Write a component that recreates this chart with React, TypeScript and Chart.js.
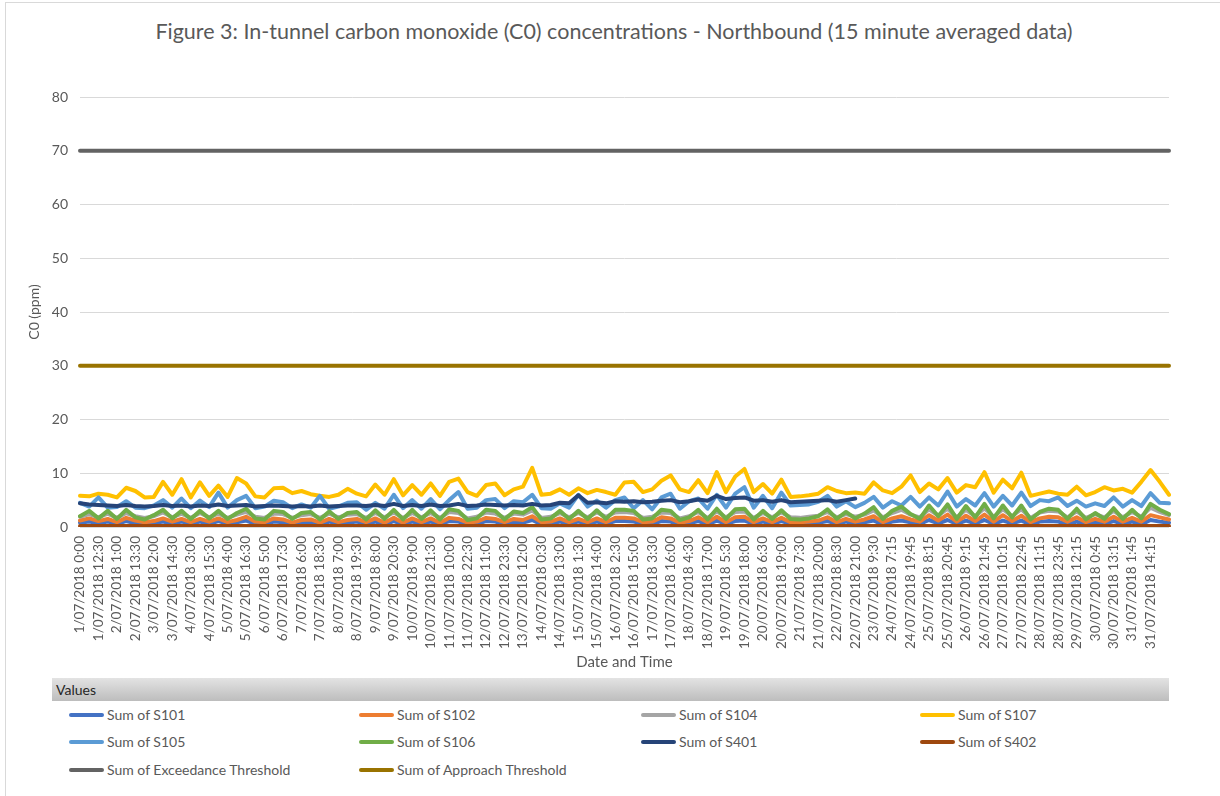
import React, { useEffect, useRef } from 'react';
import { Chart, registerables } from 'chart.js';

Chart.register(...registerables);

const FONT = 'Lato, "Noto Sans", sans-serif';
const TEXT = '#595959';

const TITLE = 'Figure 3: In-tunnel carbon monoxide (C0) concentrations - Northbound (15 minute averaged data)';
const X_TITLE = 'Date and Time';
const Y_TITLE = 'C0 (ppm)';

const TICK_LABELS = [
  '1/07/2018 0:00', '1/07/2018 12:30', '2/07/2018 1:00', '2/07/2018 13:30', '3/07/2018 2:00', '3/07/2018 14:30',
  '4/07/2018 3:00', '4/07/2018 15:30', '5/07/2018 4:00', '5/07/2018 16:30', '6/07/2018 5:00', '6/07/2018 17:30',
  '7/07/2018 6:00', '7/07/2018 18:30', '8/07/2018 7:00', '8/07/2018 19:30', '9/07/2018 8:00', '9/07/2018 20:30',
  '10/07/2018 9:00', '10/07/2018 21:30', '11/07/2018 10:00', '11/07/2018 22:30', '12/07/2018 11:00', '12/07/2018 23:30',
  '13/07/2018 12:00', '14/07/2018 0:30', '14/07/2018 13:00', '15/07/2018 1:30', '15/07/2018 14:00', '16/07/2018 2:30',
  '16/07/2018 15:00', '17/07/2018 3:30', '17/07/2018 16:00', '18/07/2018 4:30', '18/07/2018 17:00', '19/07/2018 5:30',
  '19/07/2018 18:00', '20/07/2018 6:30', '20/07/2018 19:00', '21/07/2018 7:30', '21/07/2018 20:00', '22/07/2018 8:30',
  '22/07/2018 21:00', '23/07/2018 9:30', '24/07/2018 7:15', '24/07/2018 19:45', '25/07/2018 8:15', '25/07/2018 20:45',
  '26/07/2018 9:15', '26/07/2018 21:45', '27/07/2018 10:15', '27/07/2018 22:45', '28/07/2018 11:15', '28/07/2018 23:45',
  '29/07/2018 12:15', '30/07/2018 0:45', '30/07/2018 13:15', '31/07/2018 1:45', '31/07/2018 14:15',
];

// sampled values (two samples per labelled interval)
const S101 = [
  0.8, 1.0, 0.7, 1.0, 0.6, 1.1, 0.7, 0.5, 0.7, 1.0, 0.6, 1.0, 0.6, 1.0, 0.6, 1.1, 0.6, 0.9, 1.2, 0.6,
  0.5, 1.0, 0.9, 0.5, 0.8, 0.9, 0.3, 1.0, 0.6, 0.8, 1.0, 0.5, 1.0, 0.5, 1.1, 0.5, 1.0, 0.6, 1.0, 0.5,
  1.1, 1.0, 0.5, 0.6, 1.1, 1.0, 0.5, 0.9, 0.8, 1.3, 0.5, 0.6, 1.0, 0.6, 1.0, 0.6, 1.0, 0.6, 1.1, 1.1,
  1.0, 0.6, 0.6, 1.1, 1.0, 0.4, 0.7, 1.1, 0.5, 1.2, 0.6, 1.1, 1.2, 0.6, 1.0, 0.6, 1.1, 0.6, 0.5, 0.6,
  0.8, 1.1, 0.6, 1.0, 0.6, 0.9, 1.2, 0.5, 1.0, 1.2, 0.9, 0.6, 1.3, 0.7, 1.3, 0.6, 1.2, 0.7, 1.3, 0.6,
  1.2, 0.7, 1.2, 0.5, 1.0, 1.1, 1.0, 0.5, 1.0, 0.4, 0.9, 0.6, 1.1, 0.6, 1.0, 0.5, 1.3, 1.0, 0.8,
];
const S102 = [
  1.2, 1.6, 1.1, 1.5, 0.9, 1.7, 1.2, 0.9, 1.1, 1.6, 1.0, 1.5, 0.9, 1.5, 1.0, 1.6, 0.9, 1.3, 1.9, 1.0,
  0.9, 1.6, 1.4, 0.8, 1.3, 1.4, 0.8, 1.5, 0.9, 1.3, 1.5, 0.9, 1.6, 0.8, 1.7, 0.8, 1.6, 0.9, 1.6, 0.8,
  1.7, 1.5, 0.8, 1.0, 1.7, 1.5, 0.9, 1.5, 1.3, 2.0, 0.9, 1.0, 1.6, 0.9, 1.5, 0.9, 1.6, 0.9, 1.7, 1.7,
  1.6, 0.9, 1.0, 1.8, 1.6, 0.8, 1.1, 1.8, 0.9, 1.9, 0.9, 1.8, 1.9, 0.9, 1.6, 0.9, 1.7, 0.9, 0.9, 1.0,
  1.2, 1.8, 0.9, 1.5, 1.0, 1.4, 2.0, 0.9, 1.6, 2.0, 1.4, 1.0, 2.2, 1.2, 2.3, 1.0, 2.1, 1.1, 2.3, 1.0,
  2.2, 1.1, 2.1, 0.9, 1.6, 1.9, 1.8, 1.0, 1.8, 0.9, 1.5, 1.0, 1.9, 1.0, 1.7, 1.0, 2.2, 1.8, 1.4,
];
const S104 = [
  1.9, 2.4, 1.8, 2.5, 1.7, 2.6, 2.0, 1.7, 2.0, 2.7, 1.8, 2.5, 1.7, 2.6, 1.8, 2.5, 1.7, 2.3, 2.8, 1.9,
  1.7, 2.5, 2.4, 1.7, 2.2, 2.4, 1.7, 2.5, 1.8, 2.3, 2.4, 1.7, 2.6, 1.8, 2.7, 1.7, 2.6, 1.8, 2.6, 1.7,
  2.8, 2.6, 1.6, 1.9, 2.7, 2.5, 1.7, 2.5, 2.3, 3.1, 1.7, 1.9, 2.6, 1.8, 2.6, 1.8, 2.7, 1.9, 2.7, 2.8,
  2.6, 1.7, 1.9, 2.7, 2.6, 1.6, 2.0, 2.8, 1.7, 2.9, 1.8, 2.8, 2.9, 1.7, 2.6, 1.8, 2.7, 1.8, 1.7, 1.9,
  2.1, 2.8, 1.8, 2.4, 1.9, 2.3, 3.1, 1.8, 2.6, 3.2, 2.3, 1.8, 3.3, 2.1, 3.4, 1.8, 3.2, 2.0, 3.5, 1.9,
  3.3, 2.0, 3.3, 1.7, 2.7, 3.0, 2.9, 1.8, 2.9, 1.7, 2.4, 1.8, 3.0, 1.8, 2.8, 1.9, 3.6, 2.8, 2.2,
];
const S107 = [
  5.8, 5.7, 6.2, 6.0, 5.5, 7.3, 6.7, 5.5, 5.6, 8.4, 6.0, 8.9, 5.5, 8.3, 5.8, 7.7, 5.6, 9.1, 8.1, 5.7,
  5.5, 7.2, 7.3, 6.3, 6.7, 6.1, 5.8, 5.6, 6.0, 7.1, 6.2, 5.7, 7.9, 6.0, 8.9, 5.9, 7.8, 6.0, 8.1, 5.8,
  8.4, 9.0, 6.5, 5.8, 7.8, 8.1, 5.9, 7.0, 7.5, 11.0, 6.0, 6.2, 7.0, 6.0, 7.2, 6.3, 6.9, 6.5, 6.0, 8.3,
  8.4, 6.5, 7.0, 8.6, 9.6, 7.0, 6.5, 8.7, 6.3, 10.2, 6.5, 9.4, 10.8, 6.5, 8.0, 6.2, 8.8, 5.6, 5.7, 5.9,
  6.2, 7.4, 6.7, 6.3, 6.4, 6.2, 8.3, 6.8, 6.3, 7.5, 9.6, 6.5, 8.1, 7.0, 9.1, 6.4, 7.8, 7.4, 10.2, 6.4,
  8.8, 7.2, 10.1, 5.8, 6.2, 6.6, 6.2, 6.0, 7.5, 5.9, 6.5, 7.4, 6.8, 7.1, 6.4, 8.4, 10.6, 8.4, 6.0,
];
const S105 = [
  4.5, 3.8, 5.5, 3.6, 3.7, 4.8, 3.6, 3.5, 4.0, 5.0, 3.6, 5.3, 3.5, 4.9, 3.7, 6.4, 3.6, 5.0, 5.8, 3.5,
  3.8, 4.9, 4.6, 3.5, 4.2, 3.6, 5.8, 3.4, 3.8, 4.5, 4.6, 3.2, 4.5, 3.4, 6.0, 3.5, 5.0, 3.4, 5.2, 3.3,
  5.0, 6.5, 3.4, 3.6, 5.0, 5.2, 3.5, 4.8, 4.6, 6.0, 3.5, 3.4, 4.4, 3.6, 6.0, 3.8, 4.9, 3.6, 5.0, 5.5,
  3.5, 5.0, 3.3, 5.5, 6.2, 3.4, 4.8, 5.3, 3.4, 6.0, 3.6, 6.2, 7.4, 3.6, 5.8, 3.5, 6.4, 4.0, 4.1, 4.2,
  4.7, 5.8, 3.8, 4.8, 3.7, 4.5, 5.6, 3.6, 4.8, 4.0, 5.6, 3.8, 5.5, 4.0, 6.6, 3.8, 5.2, 4.0, 6.3, 3.8,
  5.8, 4.0, 6.4, 3.9, 5.0, 4.8, 5.5, 3.9, 4.9, 3.8, 4.4, 3.9, 5.5, 3.8, 5.0, 3.9, 6.3, 4.5, 4.4,
];
const S106 = [
  2.0, 3.0, 1.6, 3.0, 1.5, 3.2, 1.8, 1.4, 2.2, 3.2, 1.6, 3.0, 1.5, 3.0, 1.6, 3.0, 1.5, 2.6, 3.4, 1.6,
  1.4, 3.0, 2.8, 1.5, 2.6, 2.8, 1.4, 2.9, 1.5, 2.6, 2.8, 1.4, 3.1, 1.5, 3.2, 1.4, 3.2, 1.5, 3.1, 1.4,
  3.3, 3.0, 1.3, 1.6, 3.2, 3.0, 1.4, 2.9, 2.6, 3.7, 1.4, 1.6, 3.0, 1.5, 3.0, 1.5, 3.1, 1.5, 3.2, 3.2,
  3.0, 1.4, 1.6, 3.2, 3.0, 1.3, 1.8, 3.2, 1.4, 3.4, 1.5, 3.3, 3.4, 1.4, 3.0, 1.5, 3.1, 1.5, 1.4, 1.6,
  2.0, 3.3, 1.5, 2.8, 1.6, 2.5, 3.7, 1.5, 3.0, 3.8, 2.4, 1.5, 4.0, 2.0, 4.2, 1.5, 3.9, 1.8, 4.3, 1.6,
  4.0, 1.8, 4.0, 1.4, 2.8, 3.4, 3.2, 1.5, 3.4, 1.4, 2.6, 1.5, 3.5, 1.5, 3.2, 1.6, 4.3, 3.2, 2.4,
];
const S401 = [
  4.4, 4.2, 4.1, 4.0, 3.9, 4.1, 3.9, 3.8, 3.9, 4.1, 3.9, 4.0, 3.8, 4.0, 3.9, 4.2, 3.9, 4.0, 4.1, 3.8,
  3.9, 4.0, 3.9, 3.8, 3.9, 3.8, 4.0, 3.8, 3.9, 4.0, 4.0, 3.9, 4.1, 3.9, 4.3, 3.9, 4.1, 3.9, 4.2, 3.9,
  4.0, 4.3, 3.9, 4.0, 4.2, 4.1, 4.0, 4.1, 4.0, 4.3, 4.0, 4.1, 4.5, 4.4, 5.9, 4.5, 4.6, 4.4, 4.8, 4.7,
  4.8, 4.6, 4.7, 4.9, 5.0, 4.6, 4.8, 5.1, 4.9, 5.8, 5.2, 5.4, 5.5, 4.9, 5.0, 4.7, 5.0, 4.6, 4.7, 4.8,
  4.9, 5.0, 4.7, 5.0, 5.3, null, null, null, null, null, null, null, null, null, null, null, null, null, null, null,
  null, null, null, null, null, null, null, null, null, null, null, null, null, null, null, null, null, null, null,
];
const S402 = [
  0.2, 0.2, 0.2, 0.2, 0.2, 0.2, 0.2, 0.2, 0.2, 0.2, 0.2, 0.2, 0.2, 0.2, 0.2, 0.2, 0.2, 0.2, 0.2, 0.2,
  0.2, 0.2, 0.2, 0.2, 0.2, 0.2, 0.2, 0.2, 0.2, 0.2, 0.2, 0.2, 0.2, 0.2, 0.2, 0.2, 0.2, 0.2, 0.2, 0.2,
  0.2, 0.2, 0.2, 0.2, 0.2, 0.2, 0.2, 0.2, 0.2, 0.2, 0.2, 0.2, 0.2, 0.2, 0.2, 0.2, 0.2, 0.2, 0.2, 0.2,
  0.2, 0.2, 0.2, 0.2, 0.2, 0.2, 0.2, 0.2, 0.2, 0.2, 0.2, 0.2, 0.2, 0.2, 0.2, 0.2, 0.2, 0.2, 0.2, 0.2,
  0.2, 0.2, 0.2, 0.2, 0.2, 0.2, 0.2, 0.2, 0.2, 0.2, 0.2, 0.2, 0.2, 0.2, 0.2, 0.2, 0.2, 0.2, 0.2, 0.2,
  0.2, 0.2, 0.2, 0.2, 0.2, 0.2, 0.2, 0.2, 0.2, 0.2, 0.2, 0.2, 0.2, 0.2, 0.2, 0.2, 0.2, 0.2, 0.2,
];
const EXCEEDANCE_THRESHOLD = 70;
const APPROACH_THRESHOLD = 30;

// category labels for the points: a tick label on every second sample
const POINT_LABELS = S101.map((_, i) => (i % 2 === 0 && TICK_LABELS[i / 2]) ? TICK_LABELS[i / 2] : '');

const SERIES = [
  { label: 'Sum of S101', data: S101, color: '#4472C4' },
  { label: 'Sum of S102', data: S102, color: '#ED7D31' },
  { label: 'Sum of S104', data: S104, color: '#A5A5A5' },
  { label: 'Sum of S107', data: S107, color: '#FFC000' },
  { label: 'Sum of S105', data: S105, color: '#5B9BD5' },
  { label: 'Sum of S106', data: S106, color: '#70AD47' },
  { label: 'Sum of S401', data: S401, color: '#264478' },
  { label: 'Sum of S402', data: S402, color: '#9E480E' },
  { label: 'Sum of Exceedance Threshold', data: POINT_LABELS.map(() => EXCEEDANCE_THRESHOLD), color: '#636363' },
  { label: 'Sum of Approach Threshold', data: POINT_LABELS.map(() => APPROACH_THRESHOLD), color: '#997300' },
];

const LEGEND_COLS = [107, 397, 679, 958];
const LEGEND_ROWS = [715, 742, 770];

export default function App() {
  const ref = useRef<HTMLCanvasElement | null>(null);

  useEffect(() => {
    if (!ref.current) return;
    const chart = new Chart(ref.current, {
      type: 'line',
      data: {
        labels: POINT_LABELS,
        datasets: SERIES.map((s, i) => ({
          label: s.label,
          data: s.data as any,
          borderColor: s.color,
          backgroundColor: s.color,
          borderWidth: 4,
          pointRadius: 0,
          tension: 0,
          fill: false,
          spanGaps: false,
          order: -i,
          borderJoinStyle: 'round' as const,
          borderCapStyle: 'round' as const,
        })),
      },
      options: {
        animation: false,
        responsive: false,
        maintainAspectRatio: false,
        layout: { padding: { left: 0, right: 51, top: 97, bottom: 0 } },
        plugins: {
          legend: { display: false },
          tooltip: { enabled: false },
          title: { display: false },
        },
        scales: {
          x: {
            grid: { display: false, drawTicks: false },
            border: { display: false },
            ticks: {
              autoSkip: false,
              minRotation: 90,
              maxRotation: 90,
              padding: 9,
              color: TEXT,
              font: { family: FONT, size: 13.5 },
            },
            title: {
              display: true,
              text: X_TITLE,
              color: TEXT,
              font: { family: FONT, size: 15 },
              padding: { top: 0, bottom: 9 },
            },
            afterFit: (s: any) => { s.height = 153; },
          },
          y: {
            min: 0,
            max: 80,
            ticks: { stepSize: 10, padding: 12, color: TEXT, font: { family: FONT, size: 14 } },
            grid: { color: '#d9d9d9', lineWidth: 1, drawTicks: false },
            border: { display: false },
            title: {
              display: true,
              text: Y_TITLE,
              color: TEXT,
              font: { family: FONT, size: 14 },
              padding: { top: 26, bottom: 0 },
            },
            afterFit: (s: any) => { s.width = 80; },
          },
        },
      } as any,
    });
    return () => chart.destroy();
  }, []);

  return (
    <div style={{ position: 'fixed', left: 0, top: 0, width: 1220, height: 796, background: '#fff', overflow: 'hidden', fontFamily: FONT }}>
      <div style={{ position: 'absolute', left: 5, top: 2, width: 1220, height: 800, borderLeft: '1px solid #d9d9d9', borderTop: '1px solid #d9d9d9' }} />
      <div style={{ position: 'absolute', left: 0, top: 18, width: 1228, textAlign: 'center', fontSize: 21.5, lineHeight: '26px', color: TEXT, whiteSpace: 'nowrap' }}>
        {TITLE}
      </div>
      <canvas ref={ref} width={1220} height={680} style={{ position: 'absolute', left: 0, top: 0, width: 1220, height: 680 }} />
      <div style={{
        position: 'absolute', left: 52, top: 678, width: 1117, height: 23,
        background: 'linear-gradient(#e3e3e3, #bdbdbd)', color: '#262626', fontSize: 14, lineHeight: '23px', paddingLeft: 4, boxSizing: 'border-box',
      }}>Values</div>
      {SERIES.map((s, i) => {
        const x = LEGEND_COLS[i % 4];
        const y = LEGEND_ROWS[Math.floor(i / 4)];
        return (
          <React.Fragment key={s.label}>
            <div style={{ position: 'absolute', left: x - 38, top: y - 2, width: 35, height: 4, borderRadius: 2, background: s.color }} />
            <div style={{ position: 'absolute', left: x, top: y - 10, fontSize: 14, lineHeight: '20px', color: TEXT, whiteSpace: 'nowrap' }}>{s.label}</div>
          </React.Fragment>
        );
      })}
    </div>
  );
}
